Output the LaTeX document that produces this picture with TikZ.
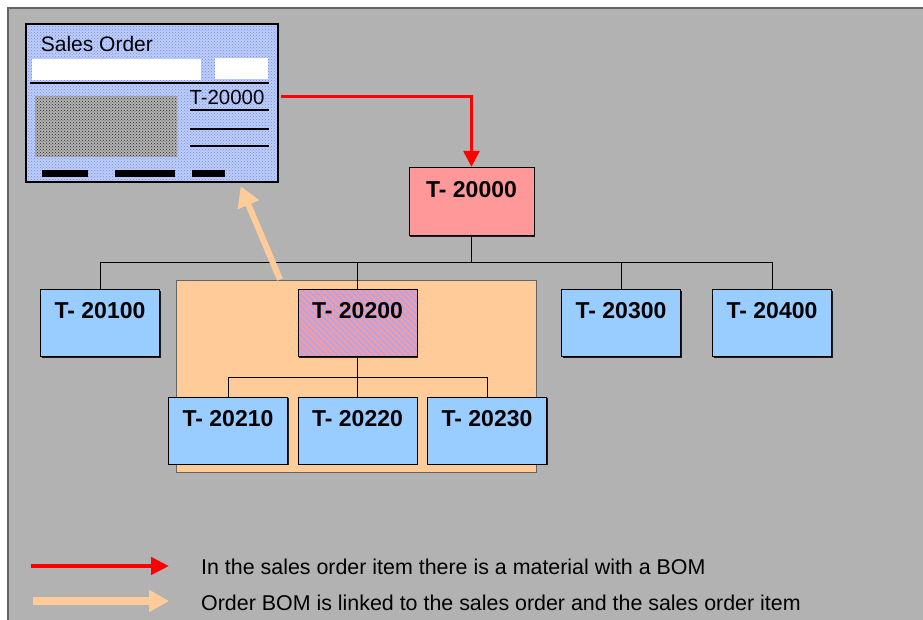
\documentclass[tikz,border=0pt]{standalone}
\usepackage{fontspec}
\setmainfont{Liberation Sans}
\usetikzlibrary{arrows.meta,positioning,shadows,patterns,patterns.meta}

\definecolor{bggray}{RGB}{178,178,178}
\definecolor{framegray}{RGB}{100,100,100}
\definecolor{partblue}{RGB}{153,204,255}
\definecolor{headpink}{RGB}{255,153,153}
\definecolor{bompeach}{RGB}{255,204,153}
\definecolor{formblue}{RGB}{190,205,250}
\definecolor{formdot}{RGB}{110,140,235}
\definecolor{stripeblue}{RGB}{153,170,255}
\definecolor{linkred}{RGB}{255,0,0}

\tikzset{
  box/.style={draw=black, line width=0.8pt, minimum width=119pt, minimum height=67pt,
    inner sep=0pt, text height=29pt, text depth=38pt,
    font=\fontsize{23}{27}\selectfont\bfseries,
    drop shadow={shadow xshift=1.3pt, shadow yshift=-1.3pt, fill=black, opacity=0.85}},
  part/.style={box, fill=partblue},
  head/.style={box, fill=headpink},
  bomhead/.style={box, preaction={fill=headpink},
    pattern={Lines[angle=-45,distance=4pt,line width=2pt]}, pattern color=stripeblue},
  bomarea/.style={draw=framegray, line width=0.8pt, fill=bompeach, minimum width=360pt,
    minimum height=192pt, inner sep=0pt},
  connector/.style={draw=black, line width=0.8pt},
  redlink/.style={draw=linkred, line width=3pt, -{Triangle[length=16pt,width=16pt]}},
  peachlink/.style={draw=bompeach, line width=6pt, -{Triangle[length=20pt,width=22pt]}},
  legendred/.style={draw=linkred, line width=4.5pt, -{Triangle[length=18pt,width=17pt]}},
  legendpeach/.style={draw=bompeach, line width=8pt, -{Triangle[length=20pt,width=21pt]}},
  legend/.style={anchor=base west, inner sep=0pt, font=\fontsize{21.4}{25}\selectfont},
}

\begin{document}
\begin{tikzpicture}[x=1pt,y=-1pt]
\useasboundingbox (0,0) rectangle (923,619);
\fill[white] (0,0) rectangle (923,619);
\draw[framegray, line width=2pt, fill=bggray] (8.3,7.5) rectangle (940,640);

% order BOM
\node[bomarea] (orderbom) at (356.7,375.9) {};

% sales order form
\node[draw=black, line width=2pt, minimum width=252.6pt, minimum height=158pt, inner sep=0pt,
  preaction={fill=formblue}, pattern=crosshatch dots, pattern color=formdot] (salesorder) at (152,103.3) {};
\fill[white] (32.3,59) rectangle (201,80);
\fill[white] (215,58.3) rectangle (268.3,79);
\draw[line width=2pt] (30,83.3) -- (269.3,83.3);
\path[preaction={fill=black!30}, pattern=crosshatch dots, pattern color=black!85] (35,96) rectangle (177.3,156.7);
\foreach \y in {110,128.7,146}
  \draw[line width=2.3pt] (190,\y) -- (268.7,\y);
\fill (42,170) rectangle (88,177);
\fill (115,170) rectangle (175,177);
\fill (192,170) rectangle (225,177);
\node[anchor=base west, inner sep=0pt, font=\fontsize{21}{25}\selectfont] (sotitle) at (40.7,51.7) {Sales Order};
\node[anchor=base west, inner sep=0pt, font=\fontsize{20.4}{24}\selectfont] (soitem) at (189.3,104) {T-20000};

% BOM structure
\node[head, minimum width=125pt, minimum height=68.5pt, text height=30pt, text depth=38.5pt] (t20000) at (471.5,201.5) {T- 20000};
\node[part] (t20100) at (100,323) {T- 20100};
\node[bomhead] (t20200) at (357.5,323) {T- 20200};
\node[part] (t20300) at (621,323) {T- 20300};
\node[part] (t20400) at (772,323) {T- 20400};
\node[part] (t20210) at (228,430.5) {T- 20210};
\node[part] (t20220) at (357.5,430.5) {T- 20220};
\node[part] (t20230) at (487,430.5) {T- 20230};

\draw[connector] (t20000.south) -- ++(0,26.5) coordinate (topbus);
\foreach \n in {t20100,t20200,t20300,t20400}
  \draw[connector] (topbus) -| (\n.north);
\draw[connector] (t20200.south) -- ++(0,20) coordinate (subbus);
\foreach \n in {t20210,t20220,t20230}
  \draw[connector] (subbus) -| (\n.north);

% links
\draw[redlink, shorten <=2pt] (salesorder.east |- soitem.center) -| (t20000.north);
\draw[peachlink] ([xshift=-76.7pt]orderbom.north) -- ([xshift=88.7pt,yshift=-3pt]salesorder.south);

% legend
\coordinate (redstart) at (31,566);
\coordinate (redend) at (169,566);
\draw[legendred] (redstart) -- (redend);
\node[legend] (redtext) at (201,574) {In the sales order item there is a material with a BOM};
\coordinate (peachstart) at (33,601);
\coordinate (peachend) at (169,601);
\draw[legendpeach] (peachstart) -- (peachend);
\node[legend] (peachtext) at (201,610) {Order BOM is linked to the sales order and the sales order item};
\end{tikzpicture}
\end{document}
